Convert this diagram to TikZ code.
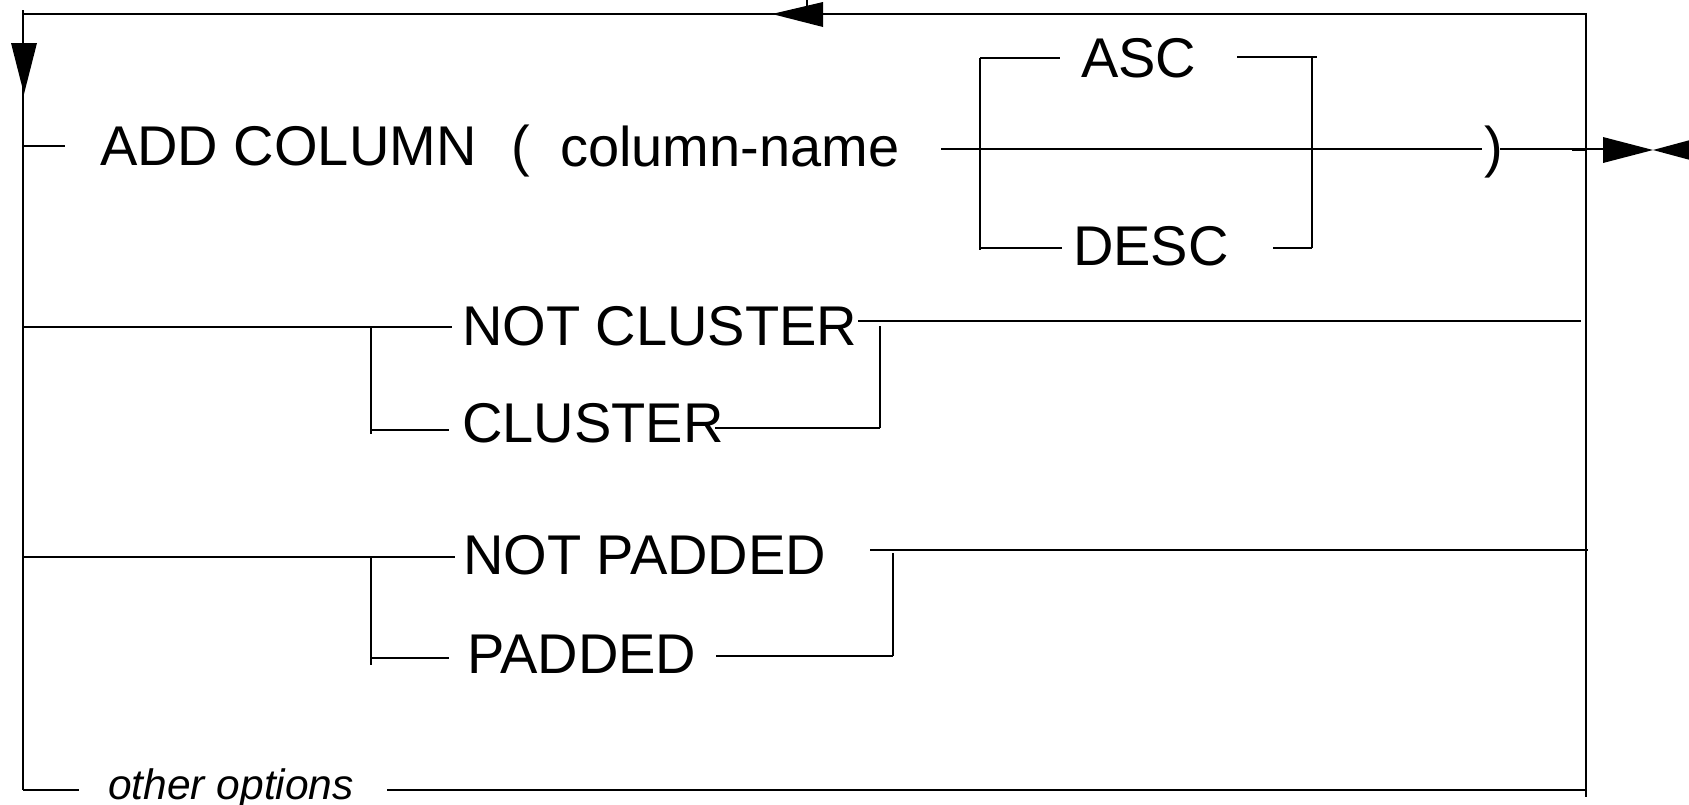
\documentclass[tikz,border=0pt]{standalone}
\usepackage{fontspec}
\setmainfont{Liberation Sans}
\begin{document}
\begin{tikzpicture}[x=1pt,y=-1pt,
  rail/.style={line width=2.8pt},
  kw/.style={anchor=base west, inner sep=0pt, font=\fontsize{56}{60}\selectfont},
  opt/.style={anchor=base west, inner sep=0pt, font=\fontsize{42.5}{46}\selectfont\itshape},
  tip/.style={fill=black, draw=none}]
\useasboundingbox (0,0) rectangle (1689,804);
\clip (0,0) rectangle (1689,804);

% ---------- text nodes ----------
\node[kw] (add)   at (100,165) {ADD COLUMN};
\node[kw] (lpar)  at (511,165) {(};
\node[kw] (col)   at (560,166) {column-name};
\node[kw] (asc)   at (1081,77) {ASC};
\node[kw] (desc)  at (1073,265) {DESC};
\node[kw] (rpar)  at (1484,166) {)};
\node[kw] (ncl)   at (462,345) {NOT CLUSTER};
\node[kw] (cl)    at (462,442) {CLUSTER};
\node[kw] (npad)  at (463,574) {NOT PADDED};
\node[kw] (pad)   at (467,673) {PADDED};
\node[opt] (oth)  at (108,799) {other options};

% ---------- junction coordinates ----------
\coordinate (Ltop) at (23,10);
\coordinate (Lbot) at (23,790);
\coordinate (TL)   at (23,14);
\coordinate (TR)   at (1586,14);
\coordinate (Rbot) at (1586,797);
\coordinate (tick0) at (807,0);
\coordinate (tick1) at (807,14);

% row 1
\coordinate (r1a) at (23,146);   \coordinate (r1b) at (65,146);
\coordinate (m1)  at (941,149);  \coordinate (m2)  at (1482,149);
\coordinate (m3)  at (1500,149); \coordinate (m4)  at (1603,149);
\coordinate (th1) at (1572,149.5); \coordinate (th2) at (1587,149.5);
\coordinate (bl1) at (980,58);   \coordinate (bl2) at (980,250);
\coordinate (br1) at (1312,57);  \coordinate (br2) at (1312,248);
\coordinate (ascL) at (1060,58); \coordinate (ascR) at (1237,57); \coordinate (ascR2) at (1317,57);
\coordinate (desL) at (1062,248);\coordinate (desR) at (1273,248);
\coordinate (desLL) at (980,248);

% row 2
\coordinate (r2a) at (23,327);   \coordinate (r2b) at (452,327);
\coordinate (v2a) at (371,327);  \coordinate (v2b) at (371,434);
\coordinate (c2a) at (371,430);  \coordinate (c2b) at (449,430);
\coordinate (n2a) at (858,321);  \coordinate (n2b) at (1581,321);
\coordinate (w2a) at (880,326);  \coordinate (w2b) at (880,428);
\coordinate (k2a) at (715,428);

% row 3
\coordinate (r3a) at (23,557);   \coordinate (r3b) at (455,557);
\coordinate (v3a) at (371,557);  \coordinate (v3b) at (371,665);
\coordinate (c3a) at (371,658);  \coordinate (c3b) at (449,658);
\coordinate (n3a) at (870,550);  \coordinate (n3b) at (1588,550);
\coordinate (w3a) at (893,553);  \coordinate (w3b) at (893,656);
\coordinate (k3a) at (716,656);

% row 4
\coordinate (r4a) at (23,790);   \coordinate (r4b) at (79,790);
\coordinate (r4c) at (387,790);  \coordinate (r4d) at (1586,790);

% ---------- rails ----------
\draw[rail] (Ltop) -- (Lbot);
\draw[rail] (TL) -- (TR) -- (Rbot);
\draw[rail] (tick0) -- (tick1);

\draw[rail] (r1a) -- (r1b);
\draw[rail] (m1) -- (m2);
\draw[rail] (m3) -- (m4);
\draw[line width=3.6pt] (th1) -- (th2);
\draw[rail] (bl1) -- (bl2);
\draw[rail] (br1) -- (br2);
\draw[rail] (bl1) -- (ascL);
\draw[rail] (ascR) -- (ascR2);
\draw[rail] (desLL) -- (desL);
\draw[rail] (desR) -- (br2);

\draw[rail] (r2a) -- (r2b);
\draw[rail] (v2a) -- (v2b);
\draw[rail] (c2a) -- (c2b);
\draw[rail] (n2a) -- (n2b);
\draw[rail] (w2a) -- (w2b);
\draw[rail] (k2a) -- (w2b);

\draw[rail] (r3a) -- (r3b);
\draw[rail] (v3a) -- (v3b);
\draw[rail] (c3a) -- (c3b);
\draw[rail] (n3a) -- (n3b);
\draw[rail] (w3a) -- (w3b);
\draw[rail] (k3a) -- (w3b);

\draw[rail] (r4a) -- (r4b);
\draw[rail] (r4c) -- (r4d);

% ---------- arrowheads ----------
\fill[tip] (11,43) -- (37,43) -- (24,94) -- cycle;
\fill[tip] (772,14) -- (823,2) -- (823,27) -- cycle;
\fill[tip] (1603,137) -- (1603,163) -- (1653,150) -- cycle;
\fill[tip] (1653,150) -- (1705,136) -- (1705,164) -- cycle;
\end{tikzpicture}
\end{document}
